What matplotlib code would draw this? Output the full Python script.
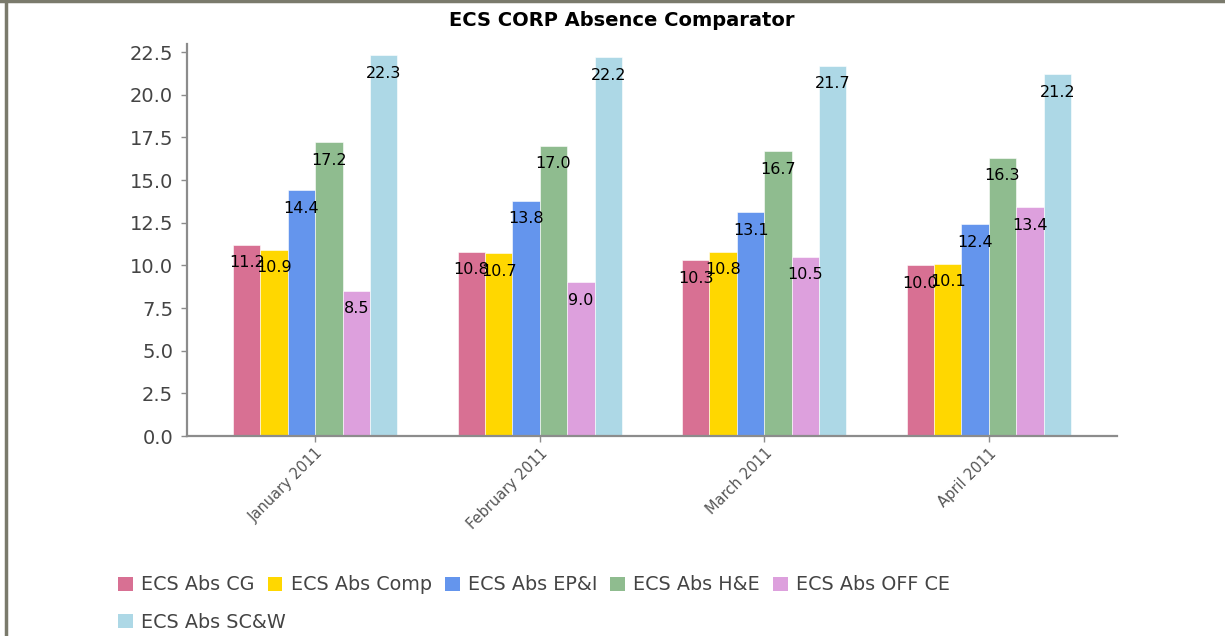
import numpy as np
import matplotlib
matplotlib.use("Agg")
import matplotlib.pyplot as plt
from matplotlib.patches import Patch
from matplotlib.lines import Line2D

months = ["January 2011", "February 2011", "March 2011", "April 2011"]
series = ["ECS Abs CG", "ECS Abs Comp", "ECS Abs EP&I", "ECS Abs H&E",
          "ECS Abs OFF CE", "ECS Abs SC&W"]
abs_cg = [11.2, 10.8, 10.3, 10.0]
abs_comp = [10.9, 10.7, 10.8, 10.1]
abs_epi = [14.4, 13.8, 13.1, 12.4]
abs_he = [17.2, 17.0, 16.7, 16.3]
abs_offce = [8.5, 9.0, 10.5, 13.4]
abs_scw = [22.3, 22.2, 21.7, 21.2]
colors = ["#d87093", "#ffd700", "#6495ed", "#8fbc8f", "#dda0dd", "#add8e6"]

values = [abs_cg, abs_comp, abs_epi, abs_he, abs_offce, abs_scw]

fig = plt.figure(figsize=(12.25, 6.36), dpi=100)
ax = fig.add_axes([187 / 1225, 1 - 436 / 636, 930 / 1225, 392.5 / 636])

x = np.arange(len(months))
width = 0.122
for i, (vals, col, name) in enumerate(zip(values, colors, series)):
    pos = x + (i - 2.5) * width
    ax.bar(pos, vals, width, color=col, edgecolor="white", linewidth=0.4, label=name)
    for px, v in zip(pos, vals):
        ax.annotate(f"{v:.1f}", (px, v), xytext=(0, -18), textcoords="offset pixels",
                    ha="center", va="center", fontsize=11.5, color="black")

ax.set_xlim(-0.571, 3.571)
ax.set_ylim(0, 23)
ax.set_yticks(np.arange(0, 23, 2.5))
ax.set_yticklabels([f"{t:.1f}" for t in np.arange(0, 23, 2.5)])
ax.set_xticks(x)
ax.set_xticklabels(months, rotation=45, ha="right", rotation_mode="anchor")

for side in ["top", "right"]:
    ax.spines[side].set_visible(False)
for side in ["left", "bottom"]:
    ax.spines[side].set_color("#8c8c8c")
    ax.spines[side].set_linewidth(1.6)
ax.tick_params(axis="y", colors="#8c8c8c", labelcolor="#444444", labelsize=14,
               length=4, width=1, pad=6)
ax.tick_params(axis="x", colors="#8c8c8c", labelcolor="#555555", labelsize=10.5,
               length=4, width=1, pad=3)

fig.text(622 / 1225, 1 - 20 / 636, "ECS CORP Absence Comparator",
         ha="center", va="center", fontsize=14, fontweight="bold")

handles = [Patch(facecolor=c, edgecolor="none") for c in colors]
leg_kw = dict(frameon=False, fontsize=13.8, handlelength=0.78, handleheight=0.75,
              handletextpad=0.42, columnspacing=0.68, borderaxespad=0,
              borderpad=0, labelcolor="#444444")
leg1 = fig.legend(handles[:5], series[:5], ncol=5, loc="center left",
                  bbox_to_anchor=(118 / 1225, 1 - 585 / 636), **leg_kw)
leg2 = fig.legend(handles[5:], series[5:], ncol=1, loc="center left",
                  bbox_to_anchor=(118 / 1225, 1 - 622 / 636), **leg_kw)

# frame lines along the left and top edges
fig.add_artist(Line2D([5.5 / 1225, 5.5 / 1225], [0, 1], transform=fig.transFigure,
                      color="#7a7a6c", linewidth=2.5))
fig.add_artist(Line2D([0, 1], [1 - 1 / 636, 1 - 1 / 636], transform=fig.transFigure,
                      color="#7a7a6c", linewidth=2.5))

fig.savefig("out.png", dpi=100)
